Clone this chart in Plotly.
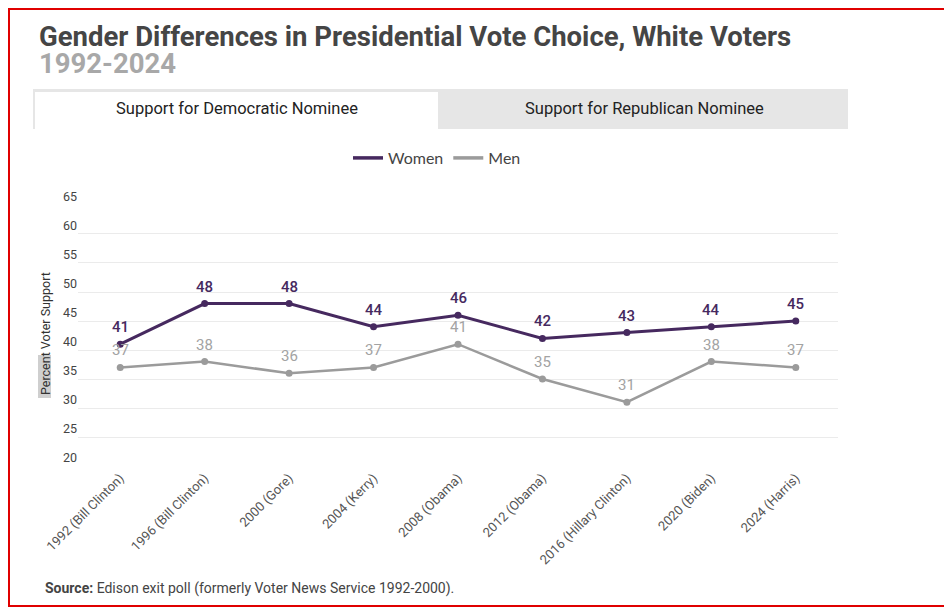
import plotly.graph_objects as go

categories = ["1992 (Bill Clinton)", "1996 (Bill Clinton)", "2000 (Gore)", "2004 (Kerry)",
              "2008 (Obama)", "2012 (Obama)", "2016 (Hillary Clinton)", "2020 (Biden)", "2024 (Harris)"]
women = [41, 48, 48, 44, 46, 42, 43, 44, 45]
men = [37, 38, 36, 37, 41, 35, 31, 38, 37]
y_ticks = [20, 25, 30, 35, 40, 45, 50, 55, 60, 65]
y_range = [19.83, 65.17]

OFF = 8  # page body margin
W, H = 952 - OFF, 608 - OFF
L, R, T, B = 78 - OFF, 838 - OFF, 204 - OFF, 467 - OFF
PURPLE = "#46295f"
GRAY = "#9b9b9b"
FONT = "Roboto"


def px(x):
    return (x - OFF - L) / (R - L)


def py(y):
    return (B - (y - OFF)) / (B - T)


fig = go.Figure()
for name, vals, color, width in [("Women", women, PURPLE, 3), ("Men", men, GRAY, 2.5)]:
    fig.add_trace(go.Scatter(
        x=categories, y=vals, name=name, mode="lines+markers", showlegend=False,
        line=dict(color=color, width=width), marker=dict(size=7, color=color),
    ))
for name, color in [("Women", PURPLE), ("Men", GRAY)]:
    fig.add_trace(go.Scatter(x=[None], y=[None], name=name, mode="lines",
                             line=dict(color=color, width=3.5)))

shapes = [
    dict(type="rect", xref="paper", yref="paper", x0=px(33), x1=px(848), y0=py(129), y1=py(89),
         fillcolor="#e6e6e6", line=dict(width=0), layer="below"),
    dict(type="rect", xref="paper", yref="paper", x0=px(35), x1=px(438), y0=py(129), y1=py(92),
         fillcolor="#ffffff", line=dict(width=0), layer="below"),
    dict(type="rect", xref="paper", yref="paper", x0=px(38), x1=px(51), y0=py(398), y1=py(355),
         fillcolor="#cfcfcf", line=dict(width=0), layer="below"),
    dict(type="rect", xref="paper", yref="paper", x0=px(9), x1=px(950), y0=py(606), y1=py(9),
         fillcolor="rgba(0,0,0,0)", line=dict(color="#e00000", width=2)),
]


def ann(text, x, y, size, color, xanchor="left", **kw):
    return dict(text=text, xref="paper", yref="paper", x=px(x), y=py(y), xanchor=xanchor,
                yanchor="middle", showarrow=False, font=dict(family=FONT, size=size, color=color), **kw)


annotations = [
    ann("<b>Gender Differences in Presidential Vote Choice, White Voters</b>", 37, 36, 27.5, "#454545"),
    ann("<b>1992-2024</b>", 37, 64, 27.5, "#a8a8a8"),
    ann("Support for Democratic Nominee", 237, 109, 16.5, "#222222", xanchor="center"),
    ann("Support for Republican Nominee", 644, 109, 16.5, "#222222", xanchor="center"),
    ann("Percent Voter Support", 45, 334, 12.5, "#333333", xanchor="center", textangle=-90),
    ann("<b>Source:</b> Edison exit poll (formerly Voter News Service 1992-2000).", 43, 588, 14, "#444444"),
]

# data labels placed through the axes
for cat, v in zip(categories, women):
    annotations.append(dict(x=cat, y=v, xref="x", yref="y", text=str(v), showarrow=False,
                            yshift=17, yanchor="middle",
                            font=dict(family=FONT, size=15, color=PURPLE, weight=500)))
for cat, v in zip(categories, men):
    annotations.append(dict(x=cat, y=v, xref="x", yref="y", text=str(v), showarrow=False,
                            yshift=17, yanchor="middle",
                            font=dict(family=FONT, size=15, color="#a3a3a3")))

fig.update_layout(
    width=W, height=H,
    margin=dict(l=L, r=W - R, t=T, b=H - B),
    paper_bgcolor="white", plot_bgcolor="white",
    font=dict(family=FONT),
    showlegend=True,
    legend=dict(orientation="h", x=px(348), y=py(158), xanchor="left", yanchor="middle",
                font=dict(family="Lato", size=16, color="#444444"), itemwidth=30),
    shapes=shapes, annotations=annotations,
)
fig.update_xaxes(type="category", range=[-0.5, len(categories) - 0.5], tickangle=-45,
                 showgrid=False, showline=False, zeroline=False,
                 tickfont=dict(family=FONT, size=13, color="#555555"))
fig.update_yaxes(range=y_range, tickvals=y_ticks, showgrid=True, gridcolor="#ebebeb",
                 zeroline=False, showline=False, ticks="", ticklabelshift=-8,
                 tickfont=dict(family=FONT, size=12.5, color="#444444"))

fig.write_html("out.html")
